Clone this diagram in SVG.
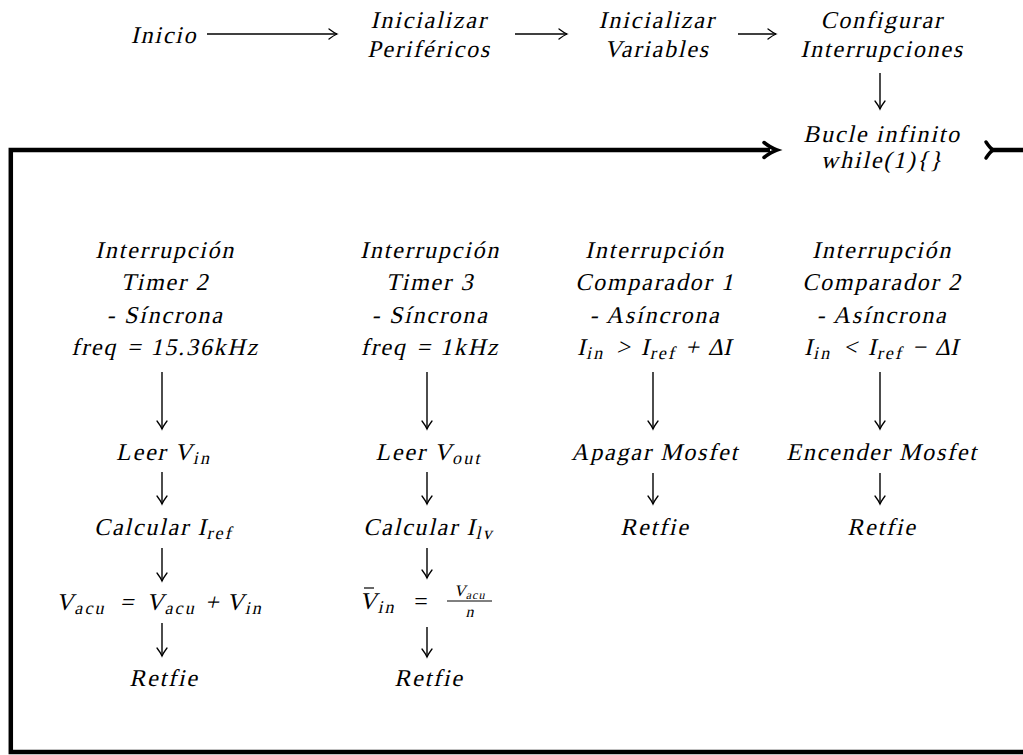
<svg xmlns="http://www.w3.org/2000/svg" width="1023" height="755" viewBox="0 0 1023 755">
<style>
text{font-family:"Liberation Serif","Times New Roman",serif;font-style:normal;font-size:24px;letter-spacing:1.8px;text-anchor:middle;fill:#000}
.u{letter-spacing:0}
.s{font-size:18px;letter-spacing:2.2px}
.f{font-size:16px;letter-spacing:1px}
.c{fill:none;stroke:#000;stroke-width:1.4}
.k{fill:none;stroke:#000;stroke-width:4.5;stroke-linejoin:miter}
</style>
<defs>
<marker id="ah" markerUnits="userSpaceOnUse" viewBox="-12 -8 14 16" markerWidth="14" markerHeight="16" refX="0" refY="0" orient="auto" overflow="visible">
<path d="M-8,-5 Q-3,-1.2 0,0 Q-3,1.2 -8,5" fill="none" stroke="#000" stroke-width="1.3" stroke-linecap="round"/>
</marker>
</defs>
<g id="connectors">
<path class="c" d="M207,34 H337" marker-end="url(#ah)"/>
<path class="c" d="M515,34 H567" marker-end="url(#ah)"/>
<path class="c" d="M738,34 H776" marker-end="url(#ah)"/>
<path class="c" d="M880,73 V109" marker-end="url(#ah)"/>
<path class="k" d="M1030,150 V752 H10.8 V150 H770"/>
<path d="M764,142.5 Q771,148 777,150 Q771,152 764,157.5" fill="none" stroke="#000" stroke-width="3.5" stroke-linecap="round"/>
<path d="M990,150 H1030" class="k"/>
<path d="M986,142 Q990,148 993,150 Q990,152 986,158" fill="none" stroke="#000" stroke-width="3.5" stroke-linecap="round"/>
<path class="c" d="M162,372 V429" marker-end="url(#ah)"/>
<path class="c" d="M162,472 V504" marker-end="url(#ah)"/>
<path class="c" d="M162,548 V581" marker-end="url(#ah)"/>
<path class="c" d="M162,623 V656" marker-end="url(#ah)"/>
<path class="c" d="M427,372 V429" marker-end="url(#ah)"/>
<path class="c" d="M427,472 V504" marker-end="url(#ah)"/>
<path class="c" d="M427,548 V578" marker-end="url(#ah)"/>
<path class="c" d="M427,627 V657" marker-end="url(#ah)"/>
<path class="c" d="M653,372 V429" marker-end="url(#ah)"/>
<path class="c" d="M653,473 V504" marker-end="url(#ah)"/>
<path class="c" d="M880,372 V429" marker-end="url(#ah)"/>
<path class="c" d="M880,473 V504" marker-end="url(#ah)"/>
</g>
<g id="inicio"><text transform="translate(164,43) skewX(-13)">Inicio</text></g>
<g id="perifericos"><text transform="translate(429,28) skewX(-13)">Inicializar</text><text transform="translate(429,57) skewX(-13)">Periféricos</text></g>
<g id="variables"><text transform="translate(657,28) skewX(-13)">Inicializar</text><text transform="translate(657,57) skewX(-13)">Variables</text></g>
<g id="interrupciones"><text transform="translate(882,28) skewX(-13)">Configurar</text><text transform="translate(882,57) skewX(-13)">Interrupciones</text></g>
<g id="bucle"><text transform="translate(882,142) skewX(-13)">Bucle infinito</text><text transform="translate(882,168) skewX(-13)">while(1){}</text></g>
<g id="timer2">
<text transform="translate(165,258) skewX(-13)">Interrupción</text>
<text transform="translate(165,290) skewX(-13)">Timer 2</text>
<text transform="translate(165,323) skewX(-13)">- Síncrona</text>
<text transform="translate(165,355) skewX(-13)">freq<tspan class="u" dx="10">=</tspan><tspan dx="10">15.36kHz</tspan></text>
</g>
<g id="timer3">
<text transform="translate(430,258) skewX(-13)">Interrupción</text>
<text transform="translate(430,290) skewX(-13)">Timer 3</text>
<text transform="translate(430,323) skewX(-13)">- Síncrona</text>
<text transform="translate(430,355) skewX(-13)">freq<tspan class="u" dx="10">=</tspan><tspan dx="10">1kHz</tspan></text>
</g>
<g id="comp1">
<text transform="translate(655,258) skewX(-13)">Interrupción</text>
<text transform="translate(655,290) skewX(-13)">Comparador 1</text>
<text transform="translate(655,323) skewX(-13)">- Asíncrona</text>
<text transform="translate(655,355) skewX(-13)">I<tspan class="s" dy="4">in</tspan><tspan class="u" dy="-4" dx="11">&gt;</tspan><tspan dx="11">I</tspan><tspan class="s" dy="4">ref</tspan><tspan class="u" dy="-4" dx="8">+</tspan><tspan class="u" dx="9">Δ</tspan>I</text>
</g>
<g id="comp2">
<text transform="translate(882,258) skewX(-13)">Interrupción</text>
<text transform="translate(882,290) skewX(-13)">Comparador 2</text>
<text transform="translate(882,323) skewX(-13)">- Asíncrona</text>
<text transform="translate(882,355) skewX(-13)">I<tspan class="s" dy="4">in</tspan><tspan class="u" dy="-4" dx="11">&lt;</tspan><tspan dx="11">I</tspan><tspan class="s" dy="4">ref</tspan><tspan class="u" dy="-4" dx="8">−</tspan><tspan class="u" dx="9">Δ</tspan>I</text>
</g>
<g id="leer-vin"><text transform="translate(164,460) skewX(-13)">Leer V<tspan class="s" dy="4">in</tspan></text></g>
<g id="calc-iref"><text transform="translate(164,535) skewX(-13)">Calcular I<tspan class="s" dy="4">ref</tspan></text></g>
<g id="vacu"><text transform="translate(160,610) skewX(-13)">V<tspan class="s" dy="4">acu</tspan><tspan class="u" dy="-4" dx="13">=</tspan><tspan dx="13">V</tspan><tspan class="s" dy="4">acu</tspan><tspan class="u" dy="-4" dx="8">+</tspan><tspan dx="8">V</tspan><tspan class="s" dy="4">in</tspan></text></g>
<g id="retfie1"><text transform="translate(164,686) skewX(-13)">Retfie</text></g>
<g id="leer-vout"><text transform="translate(429,460) skewX(-13)">Leer V<tspan class="s" dy="4">out</tspan></text></g>
<g id="calc-ilv"><text transform="translate(429,535) skewX(-13)">Calcular I<tspan class="s" dy="4">lv</tspan></text></g>
<g id="vin-mean">
<text transform="translate(378,609) skewX(-13)">V<tspan class="s" dy="4">in</tspan></text>
<line x1="364" y1="588" x2="374" y2="588" stroke="#000" stroke-width="1.2"/>
<text x="421" y="609" class="u">=</text>
<text class="f" transform="translate(470,596) skewX(-13)">V<tspan dy="3" style="font-size:12px">acu</tspan></text>
<line x1="447" y1="601" x2="492" y2="601" stroke="#000" stroke-width="1"/>
<text class="f" transform="translate(470,617) skewX(-13)">n</text>
</g>
<g id="retfie2"><text transform="translate(429,686) skewX(-13)">Retfie</text></g>
<g id="apagar"><text transform="translate(655,460) skewX(-13)">Apagar Mosfet</text></g>
<g id="retfie3"><text transform="translate(655,535) skewX(-13)">Retfie</text></g>
<g id="encender"><text transform="translate(882,460) skewX(-13)">Encender Mosfet</text></g>
<g id="retfie4"><text transform="translate(882,535) skewX(-13)">Retfie</text></g>
</svg>
